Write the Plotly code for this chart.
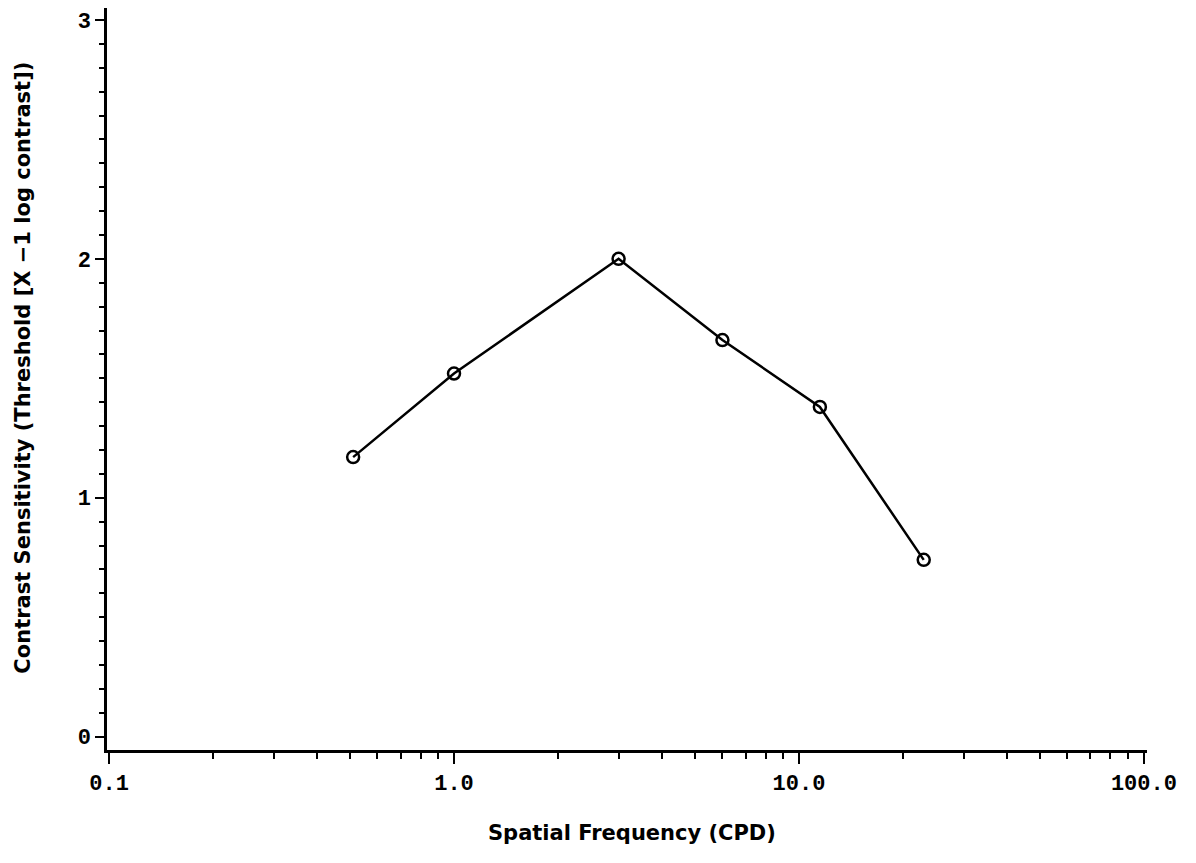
import plotly.graph_objects as go

# Contrast sensitivity measured at each spatial frequency
spatial_freq_cpd = [0.51, 1.0, 3.0, 6.0, 11.5, 23.0]
contrast_sensitivity = [1.17, 1.52, 2.0, 1.66, 1.38, 0.74]

x_tick_vals = [0.1, 1.0, 10.0, 100.0]
x_tick_text = ["0.1", "1.0", "10.0", "100.0"]
y_tick_vals = [0, 1, 2, 3]
y_tick_text = ["0", "1", "2", "3"]

tick_font = dict(family="Liberation Mono", size=22, color="black", weight="bold")
title_font = dict(family="DejaVu Sans", size=21, color="black", weight="bold")

fig = go.Figure()
fig.add_trace(go.Scatter(
    x=spatial_freq_cpd,
    y=contrast_sensitivity,
    mode="lines+markers",
    line=dict(color="black", width=2.5),
    marker=dict(symbol="circle-open", size=12, color="black", line=dict(width=2.5)),
    showlegend=False,
))

fig.update_xaxes(
    type="log",
    range=[-1.006, 2.009],
    showline=True, linecolor="black", linewidth=2.5,
    showgrid=False, zeroline=False,
    ticks="outside", ticklen=11, tickwidth=2, tickcolor="black",
    tickvals=x_tick_vals, ticktext=x_tick_text,
    tickfont=tick_font,
    minor=dict(ticks="outside", ticklen=6, tickwidth=2, tickcolor="black",
               dtick="D1", showgrid=False),
)
fig.update_yaxes(
    range=[-0.056, 3.05],
    showline=True, linecolor="black", linewidth=2.5,
    showgrid=False, zeroline=False,
    ticks="outside", ticklen=9, tickwidth=2, tickcolor="black",
    tickvals=y_tick_vals, ticktext=y_tick_text,
    tickfont=tick_font,
    minor=dict(ticks="outside", ticklen=5, tickwidth=2, tickcolor="black",
               dtick=0.1, showgrid=False),
)

fig.add_annotation(
    text="Spatial Frequency (CPD)",
    xref="paper", yref="paper", x=0.505, y=-0.112,
    xanchor="center", yanchor="middle",
    showarrow=False, font=title_font,
)
fig.add_annotation(
    text="Contrast Sensitivity (Threshold [X \u22121 log contrast])",
    xref="paper", yref="paper", x=-0.081, y=0.515,
    xanchor="center", yanchor="middle", textangle=-90,
    showarrow=False, font=title_font,
)

fig.update_layout(
    width=1196, height=863,
    margin=dict(l=107, r=49, t=8, b=113),
    paper_bgcolor="white", plot_bgcolor="white",
)

fig.write_html("out.html")
